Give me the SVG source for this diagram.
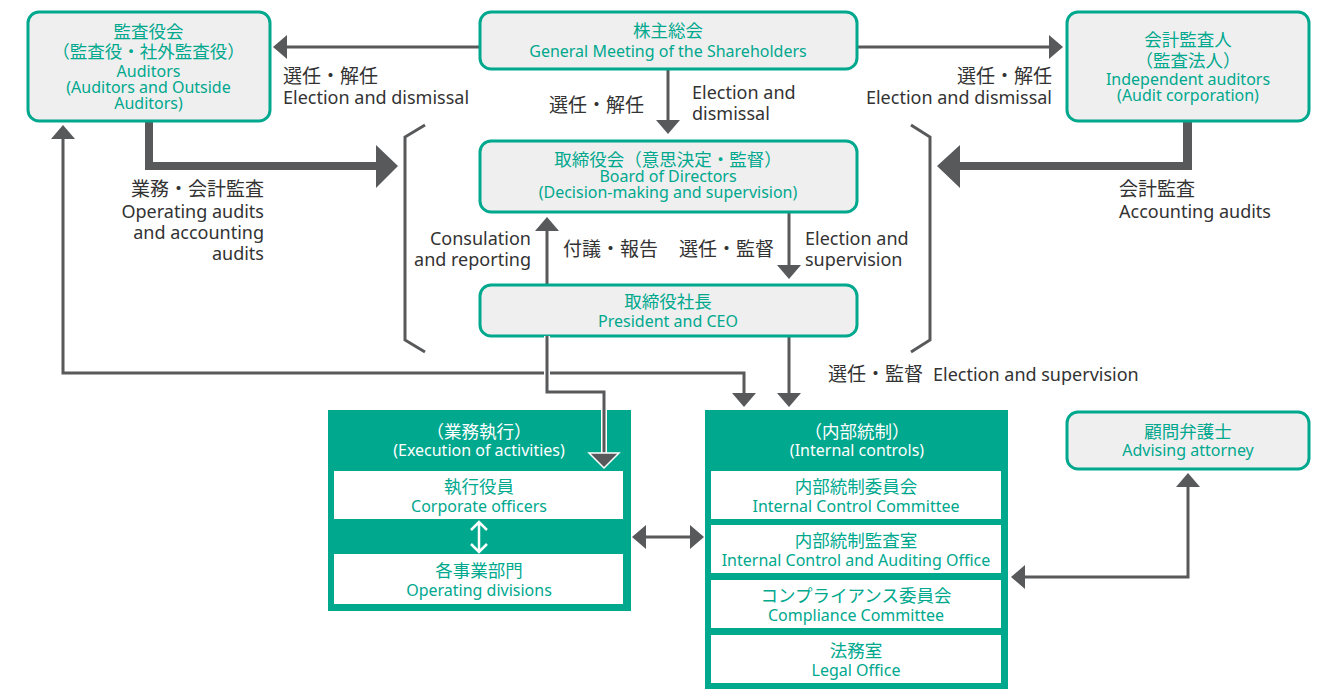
<svg xmlns="http://www.w3.org/2000/svg" width="1326" height="689" viewBox="0 0 1326 689">
<style>
.box{fill:#efefef;stroke:#00a88e;stroke-width:3}
.panel{fill:#00a88e}
.inner{fill:#ffffff}
.t{fill:#00a88e;text-anchor:middle}
.w{fill:#ffffff;text-anchor:middle}
.jp{font-family:"Noto Sans CJK JP",sans-serif;font-size:17.5px}
.en{font-family:"Noto Sans","Noto Sans CJK JP",sans-serif;font-size:16px}
.lj{font-family:"Noto Sans CJK JP",sans-serif;font-size:19px;fill:#333333}
.le{font-family:"Noto Sans","Noto Sans CJK JP",sans-serif;font-size:18px;fill:#333333}
.r{text-anchor:end}
.ln{fill:none;stroke:#58595b;stroke-width:3}
.thick{fill:#58595b}
</style>
<defs>
<marker id="ah" markerUnits="userSpaceOnUse" markerWidth="14" markerHeight="24" viewBox="0 0 14 24" refX="10" refY="12" orient="auto-start-reverse">
<path d="M0,0 L14,12 L0,24 Z" fill="#58595b"/>
</marker>
</defs>

<g id="connectors">
<path class="ln" d="M479,47 H277" marker-end="url(#ah)"/>
<path class="ln" d="M857,47 H1059" marker-end="url(#ah)"/>
<path class="ln" d="M668,69 V130" marker-end="url(#ah)"/>
<path class="ln" d="M547,284 V221" marker-end="url(#ah)"/>
<path class="ln" d="M789,212 V275" marker-end="url(#ah)"/>
<path class="ln" d="M789,336 V403" marker-end="url(#ah)"/>
<path class="ln" d="M63,129 V373 H744 V403" marker-start="url(#ah)" marker-end="url(#ah)"/>
<path class="ln" d="M636,537 H700" marker-start="url(#ah)" marker-end="url(#ah)"/>
<path class="ln" d="M1188,477 V577 H1015" marker-start="url(#ah)" marker-end="url(#ah)"/>
<path class="thick" d="M145,121 H153 V162 H376 V145 L398,166 L376,188 V170 H145 Z"/>
<path class="thick" d="M1192,121 H1183 V162 H960 V145 L937,166 L960,188 V170 H1192 Z"/>
<path class="ln" d="M425,125 L405,137 V340 L425,352"/>
<path class="ln" d="M911,125 L930,137 V340 L911,352"/>
</g>

<g id="auditors">
<rect class="box" x="28" y="12" width="242" height="109" rx="11"/>
<text class="t jp" x="148.5" y="38">監査役会</text>
<text class="t jp" x="148.5" y="58">（監査役・社外監査役）</text>
<text class="t en" x="148.5" y="77">Auditors</text>
<text class="t en" x="148.5" y="93">(Auditors and Outside</text>
<text class="t en" x="148.5" y="109">Auditors)</text>
</g>

<g id="shareholders">
<rect class="box" x="480" y="12" width="377" height="57" rx="11"/>
<text class="t jp" x="668" y="37">株主総会</text>
<text class="t en" x="668" y="57">General Meeting of the Shareholders</text>
</g>

<g id="independent-auditors">
<rect class="box" x="1067" y="12" width="242" height="109" rx="11"/>
<text class="t jp" x="1188" y="46">会計監査人</text>
<text class="t jp" x="1188" y="67">（監査法人）</text>
<text class="t en" x="1188" y="85">Independent auditors</text>
<text class="t en" x="1188" y="101">(Audit corporation)</text>
</g>

<g id="board">
<rect class="box" x="480" y="141" width="377" height="71" rx="11"/>
<text class="t jp" x="668" y="166">取締役会（意思決定・監督）</text>
<text class="t en" x="668" y="182">Board of Directors</text>
<text class="t en" x="668" y="198">(Decision-making and supervision)</text>
</g>

<g id="president">
<rect class="box" x="480" y="285" width="377" height="51" rx="11"/>
<text class="t jp" x="668" y="308">取締役社長</text>
<text class="t en" x="668" y="327">President and CEO</text>
</g>

<g id="execution">
<rect class="panel" x="328" y="410" width="303" height="201"/>
<text class="w jp" x="479" y="438">（業務執行）</text>
<text class="w en" x="479" y="456">(Execution of activities)</text>
<rect class="inner" x="334" y="471" width="289" height="48"/>
<text class="t jp" x="479" y="493">執行役員</text>
<text class="t en" x="479" y="512">Corporate officers</text>
<rect class="inner" x="334" y="554" width="289" height="50"/>
<text class="t jp" x="479" y="577">各事業部門</text>
<text class="t en" x="479" y="596">Operating divisions</text>
<path d="M479,522 V551 M471,530 L479,522 L487,530 M471,544 L479,552 L487,544" fill="none" stroke="#ffffff" stroke-width="2.5"/>
<path d="M547,336 V392 H604 V453" fill="none" stroke="#ffffff" stroke-width="6"/>
<path d="M547,336 V392 H604 V455" fill="none" stroke="#58595b" stroke-width="3"/>
<path d="M589,453 L619,453 L604,468 Z" fill="#58595b" stroke="#ffffff" stroke-width="1.5"/>
</g>

<g id="internal-controls">
<rect class="panel" x="705" y="410" width="303" height="279"/>
<text class="w jp" x="857" y="438">（内部統制）</text>
<text class="w en" x="857" y="456">(Internal controls)</text>
<rect class="inner" x="711" y="471" width="290" height="48"/>
<text class="t jp" x="856" y="493">内部統制委員会</text>
<text class="t en" x="856" y="512">Internal Control Committee</text>
<rect class="inner" x="711" y="525" width="290" height="48"/>
<text class="t jp" x="856" y="547">内部統制監査室</text>
<text class="t en" x="856" y="566">Internal Control and Auditing Office</text>
<rect class="inner" x="711" y="580" width="290" height="48"/>
<text class="t jp" x="856" y="602">コンプライアンス委員会</text>
<text class="t en" x="856" y="621">Compliance Committee</text>
<rect class="inner" x="711" y="635" width="290" height="48"/>
<text class="t jp" x="856" y="657">法務室</text>
<text class="t en" x="856" y="676">Legal Office</text>
</g>

<g id="attorney">
<rect class="box" x="1067" y="412" width="242" height="57" rx="11"/>
<text class="t jp" x="1188" y="438">顧問弁護士</text>
<text class="t en" x="1188" y="456">Advising attorney</text>
</g>

<g id="labels">
<text class="lj" x="283" y="83">選任・解任</text>
<text class="le" x="283" y="104">Election and dismissal</text>
<text class="lj r" x="1052" y="83">選任・解任</text>
<text class="le r" x="1052" y="104">Election and dismissal</text>
<text class="lj" x="549" y="112">選任・解任</text>
<text class="le" x="692" y="99">Election and</text>
<text class="le" x="692" y="120">dismissal</text>
<text class="lj r" x="264" y="196">業務・会計監査</text>
<text class="le r" x="264" y="218">Operating audits</text>
<text class="le r" x="264" y="239">and accounting</text>
<text class="le r" x="264" y="260">audits</text>
<text class="le r" x="531" y="245">Consulation</text>
<text class="le r" x="531" y="266">and reporting</text>
<text class="lj" x="563" y="256">付議・報告</text>
<text class="lj" x="679" y="256">選任・監督</text>
<text class="le" x="805" y="245">Election and</text>
<text class="le" x="805" y="266">supervision</text>
<text class="lj" x="1119" y="196">会計監査</text>
<text class="le" x="1119" y="218">Accounting audits</text>
<text class="lj" x="828" y="381">選任・監督</text>
<text class="le" x="933" y="381">Election and supervision</text>
</g>
</svg>
